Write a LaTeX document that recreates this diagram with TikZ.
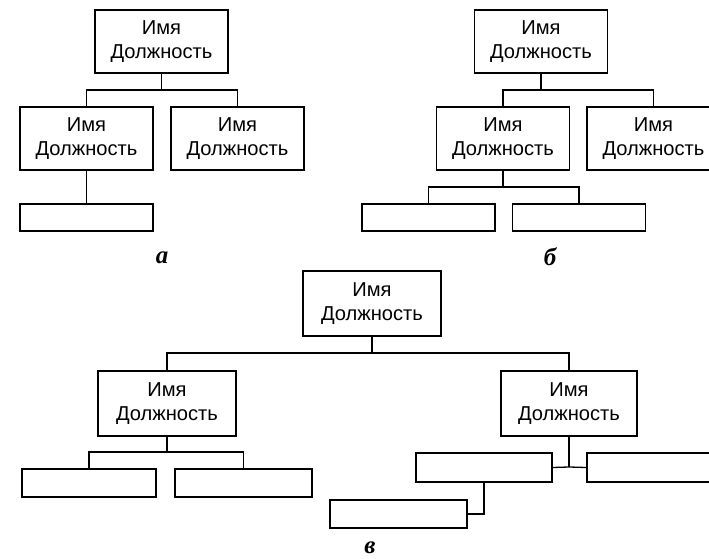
\documentclass[tikz,border=0pt]{standalone}
\usepackage{fontspec}
\setmainfont{Liberation Sans}
\newfontfamily\lblfont{Liberation Serif}
\usepackage{tikz}

\begin{document}
\begin{tikzpicture}[line width=1.3bp]
      \tikzstyle{every node}=[font=\fontsize{20.2}{23.5}\selectfont, inner sep=0pt]
      \tikzstyle{post}=[draw, rectangle, align=center, minimum width=133bp, minimum height=63bp]
      \tikzstyle{slot}=[draw, rectangle, minimum width=133bp, minimum height=27bp]
      \tikzstyle{tag}=[font=\lblfont\bfseries\itshape\fontsize{25}{26}\selectfont]
      \useasboundingbox (0bp,0bp) rectangle (709bp,559bp);
      %% a
  \node (a_top) at (161.5bp,517.5bp) [post] {Имя\\Должность};
  \node (a_l) at (86.5bp,420.5bp) [post] {Имя\\Должность};
  \node (a_r) at (237.5bp,420.5bp) [post] {Имя\\Должность};
  \node (a_l1) at (86.5bp,341.5bp) [slot] {};
  \node (a_tag) at (162bp,301bp) [tag] {а};
  \coordinate (a_bus) at (161.5bp,469bp);
  \draw (a_top) -- (a_bus);
  \draw (a_l.north) |- (a_bus) -| (a_r.north);
  \draw (a_l) -- (a_l1);
      %% b
  \node (b_top) at (541bp,517.5bp) [post] {Имя\\Должность};
  \node (b_l) at (503bp,420.5bp) [post] {Имя\\Должность};
  \node (b_r) at (653.5bp,420.5bp) [post] {Имя\\Должность};
  \node (b_l1) at (428.5bp,341.5bp) [slot] {};
  \node (b_l2) at (579bp,341.5bp) [slot] {};
  \node (b_tag) at (550bp,302bp) [tag] {б};
  \coordinate (b_bus) at (541bp,469bp);
  \coordinate (b_lbus) at (503bp,372bp);
  \draw (b_top) -- (b_bus);
  \draw (b_l.north) |- (b_bus) -| (b_r.north);
  \draw (b_l) -- (b_lbus);
  \draw (b_l1.north) |- (b_lbus) -| (b_l2.north);
      %% v
  \node (v_top) at (372bp,255.5bp) [post, minimum width=138bp, minimum height=65bp] {Имя\\Должность};
  \node (v_l) at (167bp,155.5bp) [post, minimum width=138bp, minimum height=65bp] {Имя\\Должность};
  \node (v_r) at (569bp,155.5bp) [post, minimum width=136bp, minimum height=65bp] {Имя\\Должность};
  \node (v_l1) at (89bp,76bp) [slot, minimum width=134bp, minimum height=28bp] {};
  \node (v_l2) at (243.5bp,76bp) [slot, minimum width=137bp, minimum height=28bp] {};
  \node (v_r1) at (484bp,91.5bp) [slot, minimum width=136bp, minimum height=29bp] {};
  \node (v_r2) at (655bp,91.5bp) [slot, minimum width=136bp, minimum height=29bp] {};
  \node (v_r3) at (398.5bp,45bp) [slot, minimum width=137bp, minimum height=28bp] {};
  \node (v_tag) at (370bp,11bp) [tag] {в};
  \coordinate (v_bus) at (372bp,206bp);
  \coordinate (v_lbus) at (167bp,107bp);
  \coordinate (v_rjoint) at (569bp,92bp);
  \draw (v_top) -- (v_bus);
  \draw (v_l.north) |- (v_bus) -| (v_r.north);
  \draw (v_l) -- (v_lbus);
  \draw (v_l1.north) |- (v_lbus) -| (v_l2.north);
  \draw (v_r) -- (v_rjoint);
  \draw (v_r1.east) -- (v_rjoint) -- (v_r2.west);
  \draw (v_r1.south) |- (v_r3.east);
%
    \end{tikzpicture}
\end{document}
